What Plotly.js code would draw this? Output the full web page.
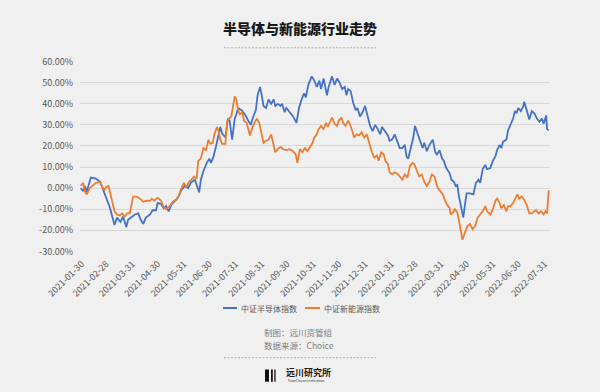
<!DOCTYPE html>
<html><head><meta charset="utf-8">
<script src="https://cdn.plot.ly/plotly-3.0.1.min.js"></script>
<style>html,body{margin:0;padding:0;background:#f0f0f0;}#chart{width:600px;height:392px;}</style>
</head><body><div id="chart"></div>
<script>
const chartTitle = '半导体与新能源行业走势';
const seriesNames = ['中证半导体指数', '中证新能源指数'];

const semiDates = ['2021-01-29','2021-02-01','2021-02-03','2021-02-05','2021-02-10','2021-02-16','2021-02-21','2021-02-24','2021-02-27','2021-03-01','2021-03-04','2021-03-06','2021-03-08','2021-03-10','2021-03-13','2021-03-17','2021-03-20','2021-03-24','2021-03-26','2021-03-29','2021-04-03','2021-04-07','2021-04-10','2021-04-13','2021-04-16','2021-04-21','2021-04-24','2021-04-28','2021-04-30','2021-05-04','2021-05-07','2021-05-10','2021-05-13','2021-05-16','2021-05-20','2021-05-24','2021-05-28','2021-06-01','2021-06-05','2021-06-08','2021-06-13','2021-06-18','2021-06-20','2021-06-23','2021-06-27','2021-06-30','2021-07-02','2021-07-05','2021-07-08','2021-07-11','2021-07-13','2021-07-15','2021-07-19','2021-07-22','2021-07-24','2021-07-27','2021-07-30','2021-08-01','2021-08-03','2021-08-07','2021-08-11','2021-08-15','2021-08-18','2021-08-21','2021-08-24','2021-08-26','2021-08-29','2021-08-31','2021-09-02','2021-09-05','2021-09-08','2021-09-11','2021-09-14','2021-09-16','2021-09-19','2021-09-22','2021-09-24','2021-09-27','2021-09-29','2021-10-03','2021-10-07','2021-10-11','2021-10-14','2021-10-17','2021-10-20','2021-10-22','2021-10-25','2021-10-29','2021-11-01','2021-11-04','2021-11-07','2021-11-09','2021-11-12','2021-11-16','2021-11-18','2021-11-22','2021-11-25','2021-11-28','2021-12-01','2021-12-04','2021-12-07','2021-12-09','2021-12-11','2021-12-14','2021-12-17','2021-12-20','2021-12-22','2021-12-25','2021-12-28','2021-12-31','2022-01-03','2022-01-06','2022-01-09','2022-01-12','2022-01-15','2022-01-18','2022-01-20','2022-01-24','2022-01-27','2022-01-29','2022-02-01','2022-02-04','2022-02-08','2022-02-10','2022-02-13','2022-02-16','2022-02-18','2022-02-20','2022-02-23','2022-02-26','2022-02-28','2022-03-03','2022-03-06','2022-03-09','2022-03-11','2022-03-14','2022-03-17','2022-03-21','2022-03-24','2022-03-26','2022-03-29','2022-04-01','2022-04-03','2022-04-06','2022-04-10','2022-04-12','2022-04-15','2022-04-17','2022-04-19','2022-04-21','2022-04-23','2022-04-25','2022-04-26','2022-04-28','2022-04-30','2022-05-04','2022-05-08','2022-05-11','2022-05-14','2022-05-16','2022-05-19','2022-05-22','2022-05-24','2022-05-28','2022-05-31','2022-06-03','2022-06-05','2022-06-08','2022-06-10','2022-06-12','2022-06-16','2022-06-18','2022-06-21','2022-06-24','2022-06-26','2022-06-28','2022-06-30','2022-07-03','2022-07-06','2022-07-07','2022-07-10','2022-07-13','2022-07-16','2022-07-19','2022-07-22','2022-07-25','2022-07-28','2022-07-30','2022-08-02','2022-08-03','2022-08-05'];
const semiValues = [0,-1.5,1,-2,5,4.5,3,-0.5,-4,-5.5,
-8.5,-12,-15,-17.5,-14,-16,-13.5,-18.5,-15,-14,
-12.5,-12,-15,-17,-14,-12.5,-10.5,-10.5,-7,-7.5,
-9.5,-8.5,-11,-8,-6,-4.5,-1,1,0,2.5,
4,-2,4,8,12,14,12,15,20,25,
29,26,24,33,32,23,33,35,38,37,
35,32,30,34,37,44,48,44,39,38,
42,40,42,39,40,39,40,36,38,36,
34,31,38,42,45,43,49,53,51,48,
51,47,52,44,48,53,49,52,50,47,
48,44,47,46,40.5,37,38,34,36,39,
34,29.5,27,30,28,25.5,29,27,25,22.5,
23,25.5,21.5,19,19,20.5,15,14,19,24,
29.5,25.5,22.5,19,21.5,17.5,20.5,23,17,16,
18,14,13,9.5,7,4,3,1,1.5,-4,
-8,-12.5,-14,-8,-2.5,-2.5,-3,2.5,4,2.5,
9,11,9,9.5,13,15,18,20.5,19,22,
23,27.5,30,33,36.5,35.5,38,36.5,39,41,
37,32.5,36.5,35.5,33,31.5,33,30.5,34.5,28,27.5];

const nevDates = ['2021-01-29','2021-02-01','2021-02-03','2021-02-05','2021-02-09','2021-02-13','2021-02-16','2021-02-21','2021-02-23','2021-02-26','2021-02-28','2021-03-03','2021-03-05','2021-03-08','2021-03-10','2021-03-13','2021-03-16','2021-03-19','2021-03-22','2021-03-25','2021-03-28','2021-04-01','2021-04-05','2021-04-09','2021-04-13','2021-04-17','2021-04-21','2021-04-23','2021-04-26','2021-04-30','2021-05-04','2021-05-07','2021-05-10','2021-05-13','2021-05-16','2021-05-19','2021-05-22','2021-05-25','2021-05-28','2021-05-31','2021-06-03','2021-06-06','2021-06-09','2021-06-12','2021-06-15','2021-06-17','2021-06-20','2021-06-23','2021-06-26','2021-06-29','2021-07-01','2021-07-04','2021-07-06','2021-07-09','2021-07-11','2021-07-13','2021-07-15','2021-07-19','2021-07-21','2021-07-22','2021-07-26','2021-07-28','2021-07-30','2021-08-01','2021-08-03','2021-08-05','2021-08-08','2021-08-10','2021-08-13','2021-08-15','2021-08-17','2021-08-20','2021-08-22','2021-08-25','2021-08-28','2021-08-30','2021-09-02','2021-09-05','2021-09-08','2021-09-11','2021-09-14','2021-09-16','2021-09-20','2021-09-23','2021-09-25','2021-09-29','2021-10-03','2021-10-07','2021-10-10','2021-10-12','2021-10-15','2021-10-18','2021-10-21','2021-10-24','2021-10-27','2021-10-30','2021-11-01','2021-11-04','2021-11-06','2021-11-09','2021-11-12','2021-11-15','2021-11-17','2021-11-20','2021-11-22','2021-11-25','2021-11-28','2021-11-30','2021-12-03','2021-12-05','2021-12-08','2021-12-11','2021-12-13','2021-12-16','2021-12-18','2021-12-21','2021-12-24','2021-12-27','2021-12-30','2022-01-02','2022-01-05','2022-01-08','2022-01-11','2022-01-14','2022-01-16','2022-01-19','2022-01-22','2022-01-24','2022-01-27','2022-01-29','2022-02-01','2022-02-04','2022-02-08','2022-02-10','2022-02-13','2022-02-16','2022-02-19','2022-02-22','2022-02-25','2022-02-27','2022-03-02','2022-03-05','2022-03-08','2022-03-11','2022-03-14','2022-03-17','2022-03-20','2022-03-23','2022-03-26','2022-03-28','2022-04-02','2022-04-04','2022-04-07','2022-04-10','2022-04-11','2022-04-14','2022-04-16','2022-04-19','2022-04-21','2022-04-23','2022-04-25','2022-04-28','2022-05-01','2022-05-04','2022-05-07','2022-05-10','2022-05-13','2022-05-16','2022-05-19','2022-05-22','2022-05-24','2022-05-28','2022-05-31','2022-06-03','2022-06-05','2022-06-08','2022-06-10','2022-06-13','2022-06-16','2022-06-18','2022-06-21','2022-06-24','2022-06-27','2022-06-29','2022-07-01','2022-07-04','2022-07-07','2022-07-10','2022-07-13','2022-07-16','2022-07-19','2022-07-21','2022-07-24','2022-07-27','2022-07-30','2022-08-01','2022-08-03','2022-08-05'];
const nevValues = [1,2.5,-1.5,-3,0,1.5,2.5,3,1,-1,
0.5,1,-2.5,-8.5,-11,-12.5,-13,-12,-13.5,-12,
-12,-4,-4,-5,-6.5,-6,-6,-5,-6,-4.5,
-6,-9,-10,-9,-7.5,-6,-5.5,-3.5,0,2.5,
0.5,3,4,5.5,4.5,13,14,19,18,23,
21,21.5,25.5,29,27,23,21,21,31,32.5,
34,39,43.5,42,37,35,36,32,31,28,
25,29,30.5,33,31,27.5,21.5,22.5,23,25.5,
20,17,19,19.5,18.5,18,18.5,17.5,16,12,
18.5,17,19,17.5,19.5,21.5,24,25.5,28,29.5,
28,31,29,32,33.5,30.5,29.5,32,33.5,31,
29.5,32,30.5,27,24,25.5,25,26.5,24,25.5,
21,17,14.5,15.5,13,17,16,13,11.5,7.5,
6.5,7.5,6.5,5.5,4,6.5,5,10.5,12,11.5,
8,5.5,6.5,3,1,3,6.5,5.5,1,-0.5,
-3,-5.5,-8,-9.5,-12.5,-11.5,-10,-11.5,-15.5,-19.5,
-24.5,-21,-18,-17,-19.5,-18,-14,-12.5,-11,-8.5,
-11,-12.5,-10,-6,-5,-7,-9.5,-8,-11,-8.5,
-8.5,-7,-5,-3,-5,-4,-5.5,-8,-12,-12,
-11,-10.5,-12,-11,-12.5,-11,-12,-1];

const xTickVals = ['2021-01-30','2021-02-28','2021-03-31','2021-04-30','2021-05-31','2021-06-30','2021-07-31','2021-08-31','2021-09-30','2021-10-31','2021-11-30','2021-12-31','2022-01-31','2022-02-28','2022-03-31','2022-04-30','2022-05-31','2022-06-30','2022-07-31'];
const xTickLabels = xTickVals.slice();
const yTickVals = [-30,-20,-10,0,10,20,30,40,50,60];
const yTickLabels = ['-30.00%','-20.00%','-10.00%','0.00%','10.00%','20.00%','30.00%','40.00%','50.00%','60.00%'];
const creditLines = ['制图：远川资管组', '数据来源：Choice'];
const logoName = '远川研究所';
const logoSub = 'YuanChuan Institution';

const colors = ['#4472c4', '#ed7d31'];
const FONT = 'Noto Sans CJK SC, sans-serif';

// plot area: x 80..550 px, y 61..252 px
const L = 80, R = 550, T = 61, B = 252;
const X = px => (px - L) / (R - L);
const Y = py => (B - py) / (B - T);

const traces = [
  {x: semiDates, y: semiValues, name: seriesNames[0], type: 'scatter', mode: 'lines',
   line: {color: colors[0], width: 1.8}, showlegend: false},
  {x: nevDates, y: nevValues, name: seriesNames[1], type: 'scatter', mode: 'lines',
   line: {color: colors[1], width: 1.8}, showlegend: false}
];

const dash = '2px,1.5px';
const shapes = [
  {type: 'line', xref: 'paper', yref: 'paper', x0: X(224), x1: X(376), y0: Y(47.8), y1: Y(47.8), line: {color: '#b0b0b0', width: 1, dash: dash}},
  {type: 'line', xref: 'paper', yref: 'paper', x0: X(224), x1: X(376), y0: Y(357.7), y1: Y(357.7), line: {color: '#b0b0b0', width: 1, dash: dash}},
  {type: 'line', xref: 'paper', yref: 'paper', x0: X(223), x1: X(237), y0: Y(308), y1: Y(308), line: {color: colors[0], width: 2}},
  {type: 'line', xref: 'paper', yref: 'paper', x0: X(305), x1: X(320), y0: Y(308), y1: Y(308), line: {color: colors[1], width: 2}},
  {type: 'rect', xref: 'paper', yref: 'paper', x0: X(265), x1: X(269), y0: Y(369.5), y1: Y(381.7), fillcolor: '#111', line: {width: 0}},
  {type: 'rect', xref: 'paper', yref: 'paper', x0: X(271), x1: X(272.8), y0: Y(369.5), y1: Y(381.7), fillcolor: '#111', line: {width: 0}},
  {type: 'rect', xref: 'paper', yref: 'paper', x0: X(274.3), x1: X(275.6), y0: Y(369.5), y1: Y(381.7), fillcolor: '#111', line: {width: 0}}
];

const ann = (text, px, py, opts) => Object.assign({
  text: text, xref: 'paper', yref: 'paper', x: X(px), y: Y(py), showarrow: false,
  xanchor: 'left', yanchor: 'middle', font: {family: FONT, size: 8, color: '#595959'}
}, opts || {});

const annotations = [
  ann(seriesNames[0], 239, 308),
  ann(seriesNames[1], 322, 308),
  ann(creditLines[0], 298.5, 331.7, {xanchor: 'center', font: {family: FONT, size: 8.5, color: '#7f7f7f'}}),
  ann(creditLines[1], 298.5, 345, {xanchor: 'center', font: {family: FONT, size: 8.5, color: '#7f7f7f'}}),
  ann(logoName, 284, 372.3, {font: {family: FONT, size: 9, color: '#1a1a1a', weight: 700}}),
  ann(logoSub, 285, 380.8, {font: {family: FONT, size: 3.5, color: '#333'}})
];

const layout = {
  width: 600, height: 392,
  margin: {l: L, r: 600 - R, t: T, b: 392 - B, pad: 0},
  paper_bgcolor: '#f0f0f0', plot_bgcolor: '#f0f0f0',
  title: {text: chartTitle, x: 0.5, xref: 'container', xanchor: 'center', y: 1 - 28.7 / 392, yanchor: 'middle',
          font: {family: FONT, size: 14, color: '#1a1a1a', weight: 900}},
  xaxis: {type: 'date', range: ['2021-01-28 05:30', '2022-08-06 12:00'],
          tickmode: 'array', tickvals: xTickVals, ticktext: xTickLabels, tickangle: -45,
          showgrid: false, zeroline: false, showline: false, ticks: '',
          tickfont: {family: FONT, size: 9, color: '#595959'}, ticklabelstandoff: 4},
  yaxis: {range: [-30.3, 60.3], tickmode: 'array', tickvals: yTickVals, ticktext: yTickLabels,
          showgrid: true, gridcolor: '#d9d9d9', gridwidth: 1, zeroline: false, showline: false, ticks: '',
          tickfont: {family: FONT, size: 9, color: '#595959'}, ticklabelstandoff: 6},
  shapes: shapes,
  annotations: annotations,
  showlegend: false
};

Plotly.newPlot('chart', traces, layout, {displayModeBar: false, staticPlot: true});
</script></body></html>
